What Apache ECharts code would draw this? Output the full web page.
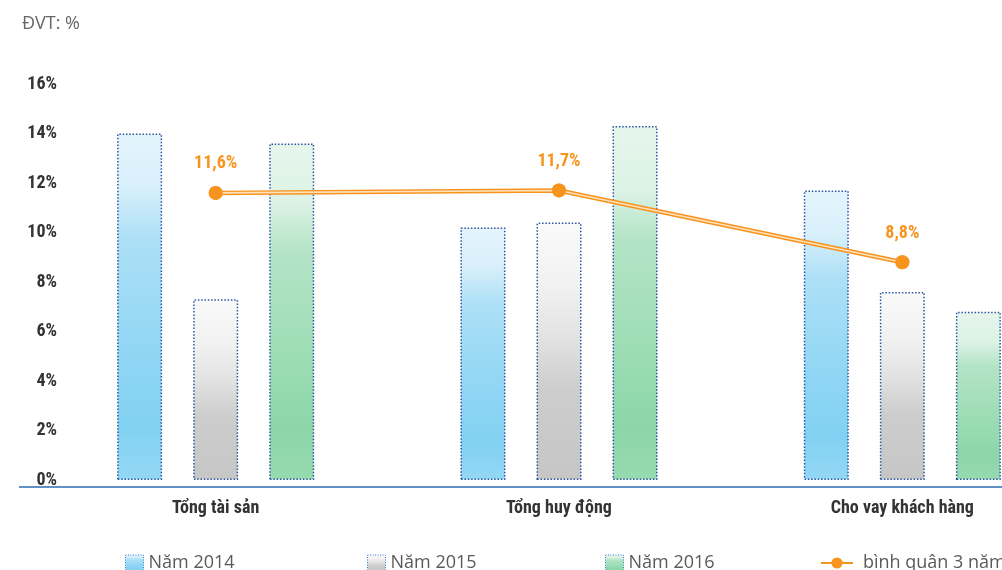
<!DOCTYPE html>
<html>
<head>
<meta charset="utf-8">
<script src="https://cdn.jsdelivr.net/npm/echarts@6/dist/echarts.min.js"></script>
<style>
  html, body { margin: 0; padding: 0; background: #ffffff; overflow: hidden; }
  /* the drawing is wider than the window; the right part is cut off by the viewport */
  #chart { width: 1076px; height: 570px; }
</style>
</head>
<body>
<div id="chart"></div>
<script>
// Tăng trưởng các chỉ tiêu chính (ĐVT: %)
const categories = ['Tổng tài sản', 'Tổng huy động', 'Cho vay khách hàng'];
const yearNames = ['Năm 2014', 'Năm 2015', 'Năm 2016'];
const values2014 = [14.0, 10.2, 11.7];
const values2015 = [7.3, 10.4, 7.6];
const values2016 = [13.6, 14.3, 6.8];
const averageName = 'bình quân 3 năm';
const average3y = [11.6, 11.7, 8.8];
const yTicks = [0, 2, 4, 6, 8, 10, 12, 14, 16];

const condensed = "'Liberation Sans Narrow', 'Roboto Condensed', 'DejaVu Sans Condensed', sans-serif";
const plainFont = "'Open Sans', 'Noto Sans', sans-serif";
const borderBlue = '#2b55a0';
const orange = '#f7941d';

function grad(stops) {
  return new echarts.graphic.LinearGradient(0, 0, 0, 1,
    stops.map(s => ({ offset: s[0], color: s[1] })));
}

const fills = [
  grad([[0, '#e4f4fc'], [0.15, '#d9f0fb'], [0.3, '#ade0f6'], [0.6, '#93d7f4'], [0.85, '#82d1f2'], [1, '#93d8f4']]),
  grad([[0, '#fafafa'], [0.25, '#f1f1f1'], [0.45, '#e2e2e2'], [0.65, '#cdcdcd'], [1, '#c6c6c6']]),
  grad([[0, '#e6f6ec'], [0.18, '#dcf2e5'], [0.32, '#b4e4c6'], [0.65, '#9bdcb4'], [0.85, '#8cd6a9'], [1, '#97daaf']])
];
const yearData = [values2014, values2015, values2016];

const chart = echarts.init(document.getElementById('chart'), null, { renderer: 'canvas' });

const barSeries = yearNames.map((name, i) => ({
  name: name,
  type: 'bar',
  data: yearData[i],
  barWidth: 45,
  barGap: '69%',
  itemStyle: {
    color: fills[i],
    borderColor: borderBlue,
    borderWidth: 1.5,
    borderType: [1.5, 1.8]
  },
  z: 2
}));

const legendX = [120, 362, 600, 815];
const legends = yearNames.map((name, i) => ({
  data: [name],
  left: legendX[i],
  top: 549,
  icon: 'rect',
  itemWidth: 18,
  itemHeight: 16,
  itemGap: 0,
  itemStyle: { borderColor: '#3a78c8', borderWidth: 1, borderType: [1, 1.5] },
  textStyle: { fontFamily: plainFont, fontSize: 18, color: '#5a5a5a' },
  selectedMode: false
}));
legends.push({
  data: [averageName],
  left: legendX[3],
  top: 549,
  itemWidth: 32,
  itemHeight: 14,
  itemGap: 0,
  textStyle: { fontFamily: plainFont, fontSize: 18, color: '#5a5a5a', padding: [0, 0, 0, 5] },
  selectedMode: false
});

const option = {
  animation: false,
  backgroundColor: '#ffffff',
  title: {
    text: 'ĐVT: %',
    left: 17,
    top: 10,
    textStyle: { fontFamily: plainFont, fontSize: 18, fontWeight: 'normal', color: '#666666' }
  },
  legend: legends,
  grid: { left: 44, right: 2, top: 84, bottom: 90, containLabel: false },
  xAxis: {
    type: 'category',
    data: categories,
    axisLine: { show: false },
    axisTick: { show: false },
    axisLabel: {
      margin: 19,
      fontFamily: condensed,
      fontSize: 18,
      fontWeight: 'bold',
      color: '#333333'
    }
  },
  yAxis: {
    type: 'value',
    min: yTicks[0],
    max: yTicks[yTicks.length - 1],
    interval: 2,
    splitLine: { show: false },
    axisLine: { show: false },
    axisTick: { show: false },
    axisLabel: {
      margin: -13,
      fontFamily: condensed,
      fontSize: 18,
      fontWeight: 'bold',
      color: '#333333',
      formatter: v => v + '%'
    }
  },
  graphic: [{
    type: 'line',
    shape: { x1: 19, y1: 487, x2: 1076, y2: 487 },
    style: { stroke: '#2a6db0', lineWidth: 1.5 },
    silent: true
  }],
  series: barSeries.concat([
    {
      name: averageName,
      type: 'line',
      data: average3y,
      symbol: 'circle',
      symbolSize: 14,
      lineStyle: { color: orange, width: 4.5 },
      itemStyle: { color: orange },
      z: 5
    },
    {
      name: 'inner',
      type: 'line',
      data: average3y,
      symbol: 'none',
      lineStyle: { color: '#fde2bd', width: 1.6 },
      silent: true,
      z: 6
    },
    {
      name: 'points',
      type: 'line',
      data: average3y,
      symbol: 'circle',
      symbolSize: 14,
      showSymbol: true,
      lineStyle: { opacity: 0 },
      itemStyle: { color: orange },
      label: {
        show: true,
        position: 'top',
        distance: 13,
        fontFamily: condensed,
        fontSize: 18,
        fontWeight: 'bold',
        color: orange,
        formatter: p => p.value.toFixed(1).replace('.', ',') + '%'
      },
      z: 7
    }
  ])
};

chart.setOption(option);
</script>
</body>
</html>
